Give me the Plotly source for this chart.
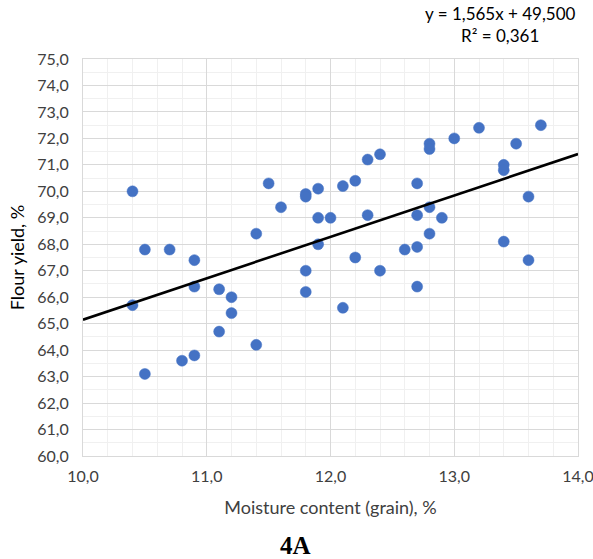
import plotly.graph_objects as go

# Grain moisture content (%) and flour yield (%) per sample
moisture = [
    10.4, 10.5, 10.7, 10.9, 10.4, 10.9, 11.1, 11.2, 11.2, 11.1,
    11.4, 10.9, 10.8, 10.5, 11.4, 11.5, 11.6, 11.8, 11.8, 11.9,
    11.9, 12.0, 11.9, 11.8, 11.8, 12.1, 12.2, 12.3, 12.4, 12.3,
    12.2, 12.4, 12.1, 12.6, 12.7, 12.7, 12.7, 12.7, 12.8, 12.8,
    12.8, 12.8, 12.9, 13.0, 13.2, 13.4, 13.4, 13.5, 13.6, 13.4,
    13.6, 13.7,
]
flour_yield = [
    70.0, 67.8, 67.8, 67.4, 65.7, 66.4, 66.3, 66.0, 65.4, 64.7,
    64.2, 63.8, 63.6, 63.1, 68.4, 70.3, 69.4, 69.9, 69.8, 70.1,
    69.0, 69.0, 68.0, 67.0, 66.2, 70.2, 70.4, 71.2, 71.4, 69.1,
    67.5, 67.0, 65.6, 67.8, 70.3, 69.1, 67.9, 66.4, 71.8, 71.6,
    69.4, 68.4, 69.0, 72.0, 72.4, 71.0, 70.8, 71.8, 69.8, 68.1,
    67.4, 72.5,
]

# Linear trendline coefficients
slope = 1.565
intercept = 49.500
r_squared = 0.361

x_range = [10.0, 14.0]
y_range = [60.0, 75.0]
x_ticks = [10.0, 11.0, 12.0, 13.0, 14.0]
y_ticks = [60.0 + i for i in range(16)]

font_family = "Lato, 'Open Sans', sans-serif"
grid_major = "#d9d9d9"
grid_minor = "#f0f0f0"

fig = go.Figure()

fig.add_trace(go.Scatter(
    x=moisture, y=flour_yield, mode="markers",
    marker=dict(color="#4472C4", size=11, line=dict(color="#4472C4", width=0.5)),
    showlegend=False, hoverinfo="x+y",
))

trend_x = x_range
trend_y = [slope * v + intercept for v in trend_x]
fig.add_trace(go.Scatter(
    x=trend_x, y=trend_y, mode="lines",
    line=dict(color="black", width=2.6),
    showlegend=False, hoverinfo="skip",
))

fmt = lambda v: f"{v:.3f}".replace(".", ",")
eq_text = f"y = {fmt(slope)}x + {fmt(intercept)}<br>R² = {fmt(r_squared)}"

fig.update_layout(
    width=593, height=559,
    margin=dict(l=83, r=15, t=59, b=103),
    paper_bgcolor="white", plot_bgcolor="white",
    separators=", ",
    font=dict(family=font_family, size=16, color="#404040"),
    xaxis=dict(
        range=x_range, tickvals=x_ticks, tickformat=".1f",
        showgrid=True, gridcolor=grid_major, gridwidth=1,
        minor=dict(dtick=0.2, showgrid=True, gridcolor=grid_minor, gridwidth=1),
        zeroline=False, showline=True, linecolor=grid_major, mirror=True,
        ticks="", ticklabelstandoff=6, ticklabeloverflow="allow",
        automargin=False,
        title=dict(text="Moisture content (grain), %", standoff=17,
                   font=dict(size=18, color="#404040")),
    ),
    yaxis=dict(
        range=y_range, tickvals=y_ticks, tickformat=".1f",
        showgrid=True, gridcolor=grid_major, gridwidth=1,
        minor=dict(dtick=0.5, showgrid=True, gridcolor=grid_minor, gridwidth=1),
        zeroline=False, showline=True, linecolor=grid_major, mirror=True,
        ticks="", ticklabelstandoff=10, automargin=False,
        title=dict(text="Flour yield, %", standoff=8,
                   font=dict(size=18, color="#000000")),
    ),
    annotations=[
        dict(text=eq_text, xref="paper", yref="paper", x=1.0, y=1.0,
             xanchor="right", yanchor="bottom", yshift=11, showarrow=False,
             align="center", font=dict(size=17, color="#000000", family=font_family)),
        dict(text="<b>4A</b>", xref="paper", yref="paper", x=0.43, y=0,
             xanchor="center", yanchor="top", yshift=-74, showarrow=False,
             font=dict(size=25, color="#000000", family="'Liberation Serif', serif")),
    ],
)

fig.write_html("out.html")
